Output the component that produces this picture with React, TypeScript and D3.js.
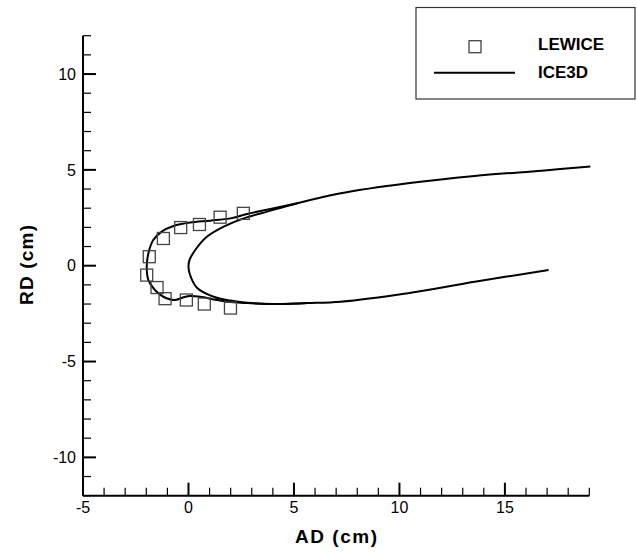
import React from "react";
import * as d3 from "d3";

// LEWICE ice shape points (cm)
const lewiceAD = [2.6, 1.5, 0.52, -0.37, -1.19, -1.86, -1.98, -1.49, -1.11, -0.1, 0.75, 1.99];
const lewiceRD = [2.73, 2.53, 2.15, 1.99, 1.42, 0.47, -0.49, -1.14, -1.72, -1.79, -2.0, -2.21];

// ICE3D clean airfoil contour (upper TE -> LE -> lower TE)
const cleanAD = [19.05, 16.75, 13.57, 10.4, 7.22, 5.16, 3.73, 2.62, 1.67, 0.87, 0.32, 0.05, 0.0, 0.08, 0.4, 1.19, 1.99, 2.78, 4.05, 5.64, 7.22, 10.4, 13.57, 17.07];
const cleanRD = [5.17, 4.96, 4.68, 4.3, 3.78, 3.26, 2.82, 2.47, 2.04, 1.51, 0.82, 0.3, -0.05, -0.5, -1.15, -1.62, -1.82, -1.93, -2.0, -1.95, -1.88, -1.44, -0.84, -0.22];

// ICE3D iced contour near the leading edge
const iceAD = [5.16, 4.05, 2.78, 1.99, 1.03, 0.08, -0.71, -1.27, -1.67, -1.9, -1.98, -1.9, -1.59, -1.19, -0.65, -0.24, 0.08, 0.56, 1.35, 2.14, 2.78, 4.05, 5.64];
const iceRD = [3.26, 3.0, 2.7, 2.47, 2.35, 2.25, 2.07, 1.78, 1.34, 0.65, -0.05, -0.75, -1.27, -1.62, -1.79, -1.65, -1.58, -1.62, -1.79, -1.91, -1.95, -2.0, -1.95];

const xMajor = [-5, 0, 5, 10, 15];
const yMajor = [-10, -5, 0, 5, 10];
const xDomain: [number, number] = [-5, 19];
const yDomain: [number, number] = [-12, 12];

const legendNames = ["LEWICE", "ICE3D"];

export default function App() {
  const W = 637, H = 557;
  const left = 83, right = 589.3, top = 35.7, bottom = 495.7;
  const x = d3.scaleLinear().domain(xDomain).range([left, right]);
  const y = d3.scaleLinear().domain(yDomain).range([bottom, top]);
  const line = d3.line<[number, number]>().x(d => x(d[0])).y(d => y(d[1])).curve(d3.curveCatmullRom.alpha(0.5));

  const clean = cleanAD.map((v, i) => [v, cleanRD[i]] as [number, number]);
  const ice = iceAD.map((v, i) => [v, iceRD[i]] as [number, number]);

  const xMinor = d3.range(xDomain[0], xDomain[1] + 0.001, 1);
  const yMinor = d3.range(yDomain[0], yDomain[1] + 0.001, 1);
  const font = "'Liberation Sans', Arial, Helvetica, sans-serif";
  const sq = 12;

  return (
    <svg width={W} height={H} style={{ position: "absolute", left: 0, top: 0, background: "#fff" }} fontFamily={font}>
      <rect x={0} y={0} width={W} height={H} fill="#fff" />
      {/* curves */}
      <path d={line(clean) || ""} fill="none" stroke="#000" strokeWidth={2} />
      <path d={line(ice) || ""} fill="none" stroke="#000" strokeWidth={2} />
      {/* LEWICE squares */}
      {lewiceAD.map((v, i) => (
        <rect key={i} x={x(v) - sq / 2} y={y(lewiceRD[i]) - sq / 2} width={sq} height={sq} fill="none" stroke="#444" strokeWidth={1.3} />
      ))}
      {/* axes */}
      <line x1={left} x2={left} y1={top} y2={bottom} stroke="#000" strokeWidth={2} />
      <line x1={left} x2={right} y1={bottom} y2={bottom} stroke="#000" strokeWidth={2} />
      {xMinor.map(v => {
        const major = xMajor.includes(v);
        return <line key={"xt" + v} x1={x(v)} x2={x(v)} y1={bottom} y2={bottom - (major ? 13 : 8)} stroke="#000" strokeWidth={major ? 2 : 1.2} />;
      })}
      {yMinor.map(v => {
        const major = yMajor.includes(v);
        return <line key={"yt" + v} x1={left} x2={left + (major ? 13 : 8)} y1={y(v)} y2={y(v)} stroke="#000" strokeWidth={major ? 2 : 1.2} />;
      })}
      {xMajor.map(v => (
        <text key={"xl" + v} x={x(v)} y={513} textAnchor="middle" fontSize={16} fill="#000">{v}</text>
      ))}
      {yMajor.map(v => (
        <text key={"yl" + v} x={76} y={y(v)} dy="0.36em" textAnchor="end" fontSize={16} fill="#000">{v}</text>
      ))}
      <text x={336} y={543} textAnchor="middle" fontSize={19} fontWeight="bold" fill="#000" textLength={82} lengthAdjust="spacing">AD (cm)</text>
      <text transform={`translate(33,265) rotate(-90)`} textAnchor="middle" fontSize={19} fontWeight="bold" fill="#000" textLength={80} lengthAdjust="spacing">RD (cm)</text>
      {/* legend */}
      <rect x={416} y={7.5} width={219} height={91.5} fill="#fff" stroke="#333" strokeWidth={1.2} />
      <rect x={475 - 6} y={46.7 - 6} width={12} height={12} fill="none" stroke="#444" strokeWidth={1.3} />
      <line x1={434} x2={515} y1={72.7} y2={72.7} stroke="#000" strokeWidth={2} />
      <text x={538} y={50} fontSize={17} fontWeight="bold" fill="#000">{legendNames[0]}</text>
      <text x={538} y={78.3} fontSize={17} fontWeight="bold" fill="#000">{legendNames[1]}</text>
    </svg>
  );
}
